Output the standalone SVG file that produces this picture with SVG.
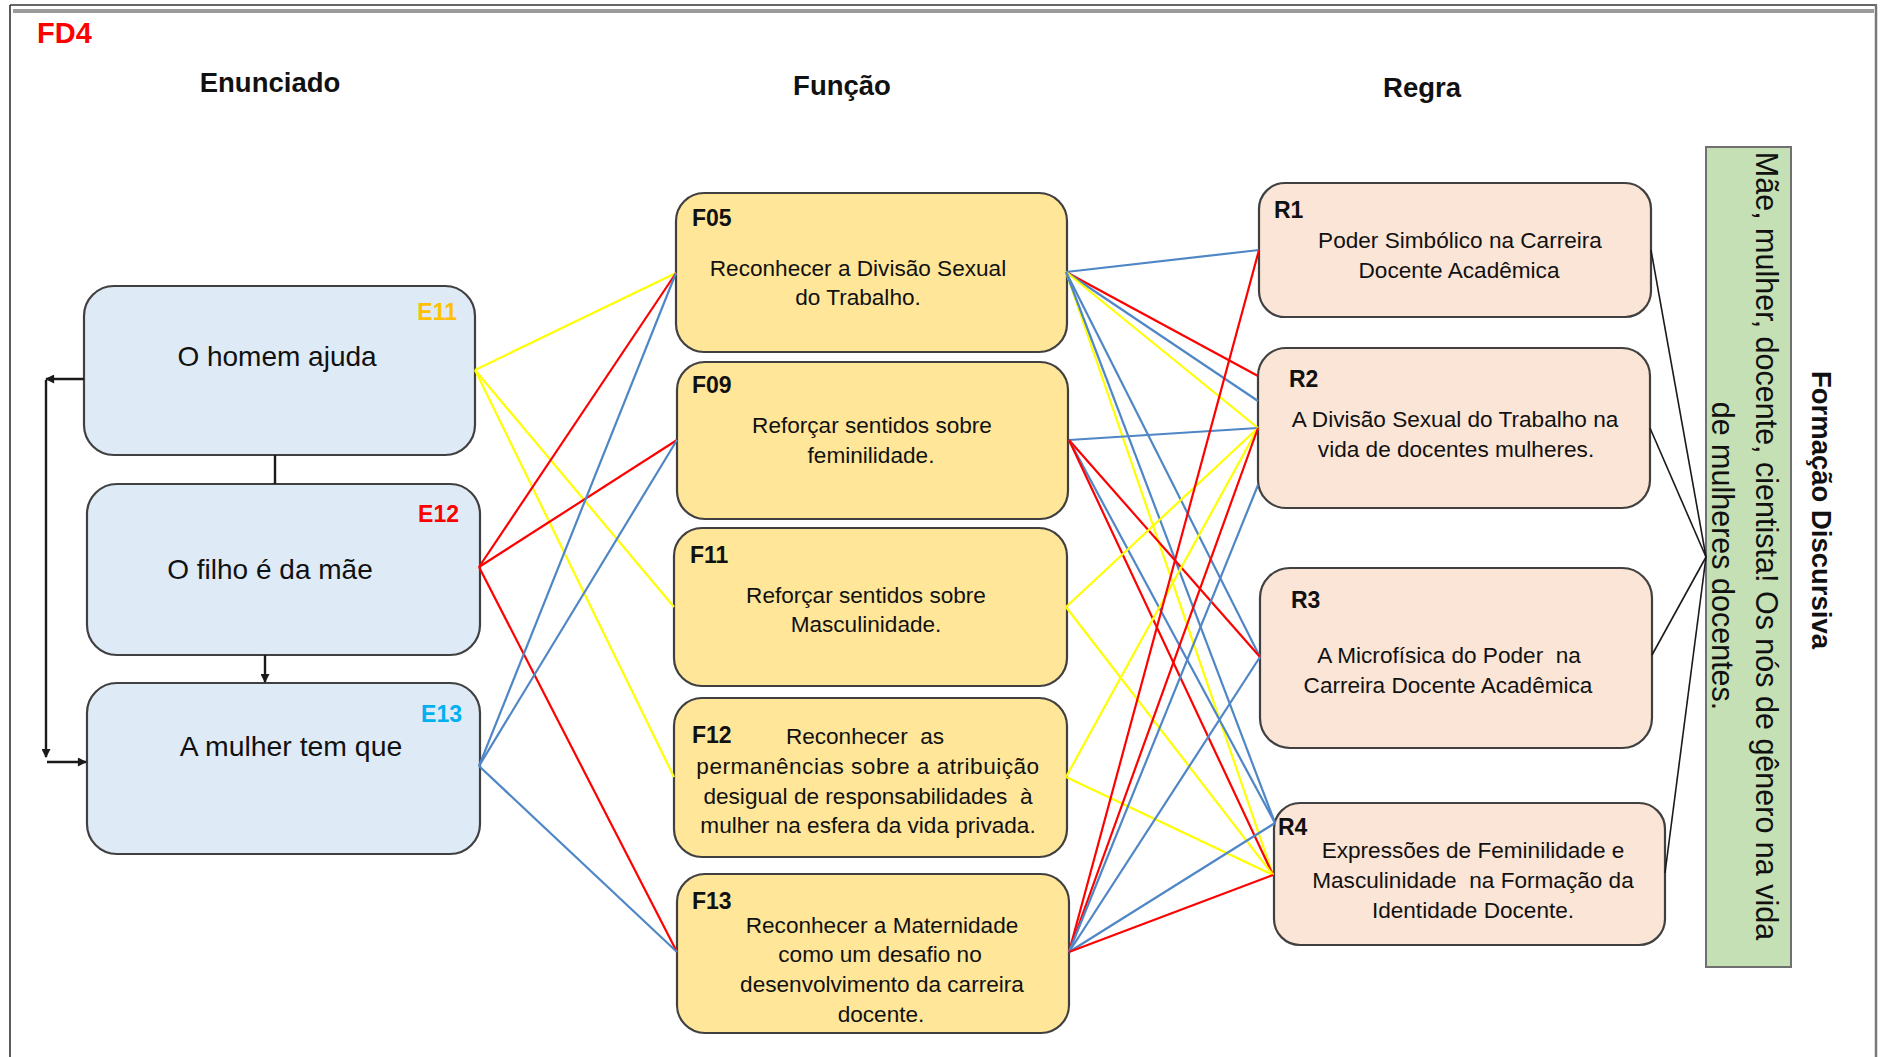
<svg xmlns="http://www.w3.org/2000/svg" width="1885" height="1057" viewBox="0 0 1885 1057">
  <style>
    text { font-family: "Liberation Sans", Arial, sans-serif; fill: #111; }
    .hdr { font-size: 27.5px; font-weight: bold; text-anchor: middle; }
    .etx { font-size: 28px; text-anchor: middle; }
    .elab { font-size: 23px; font-weight: bold; text-anchor: end; }
    .lab { font-size: 23px; font-weight: bold; }
    .tx { font-size: 22.6px; text-anchor: middle; }
    .ebox { fill: #DEEBF7; stroke: #404040; stroke-width: 2.2; }
    .fbox { fill: #FFE699; stroke: #404040; stroke-width: 2.2; }
    .rbox { fill: #FBE5D6; stroke: #404040; stroke-width: 2.2; }
    .gbox { fill: #C5E0B4; stroke: #707070; stroke-width: 2; }
    .y { stroke: #FFFF00; stroke-width: 2.2; fill: none; }
    .r { stroke: #FF0000; stroke-width: 2.2; fill: none; }
    .b { stroke: #4F86C6; stroke-width: 2.2; fill: none; }
    .k { stroke: #1a1a1a; stroke-width: 1.6; fill: none; }
    .ka { stroke: #1a1a1a; stroke-width: 2.4; fill: none; }
  </style>
  <defs>
    <marker id="arr" viewBox="0 0 10 10" refX="9" refY="5" markerUnits="userSpaceOnUse" markerWidth="10" markerHeight="9" orient="auto">
      <path d="M0,0 L10,5 L0,10 z" fill="#1a1a1a"/>
    </marker>
  </defs>

  <!-- frame -->
  <g id="frame">
    <rect x="13" y="9" width="1861" height="4" fill="#9a9a9a"/>
    <line x1="10" y1="5" x2="1877" y2="5" stroke="#333" stroke-width="1.6"/>
    <line x1="10" y1="5" x2="10" y2="1057" stroke="#333" stroke-width="1.6"/>
    <line x1="1876" y1="5" x2="1876" y2="1057" stroke="#777" stroke-width="2.5"/>
  </g>

  <g id="titles">
    <text x="37" y="43" style="font-size:29px;font-weight:bold;fill:#FF0000">FD4</text>
    <text class="hdr" x="270" y="92">Enunciado</text>
    <text class="hdr" x="842" y="95">Função</text>
    <text class="hdr" x="1422" y="97">Regra</text>
  </g>

  <!-- nodes: Enunciado -->
  <g id="E11">
    <rect class="ebox" x="84" y="286" width="391" height="169" rx="30"/>
    <text class="elab" x="457" y="320" style="fill:#FFC000">E11</text>
    <text class="etx" x="277" y="366">O homem ajuda</text>
  </g>
  <g id="E12">
    <rect class="ebox" x="87" y="484" width="393" height="171" rx="30"/>
    <text class="elab" x="459" y="522" style="fill:#FF0000">E12</text>
    <text class="etx" x="270" y="579">O filho é da mãe</text>
  </g>
  <g id="E13">
    <rect class="ebox" x="87" y="683" width="393" height="171" rx="30"/>
    <text class="elab" x="462" y="722" style="fill:#00B0F0">E13</text>
    <text class="etx" x="291" y="756" style="font-size:28.4px">A mulher tem que</text>
  </g>

  <!-- nodes: Função -->
  <g id="F05">
    <rect class="fbox" x="676" y="193" width="391" height="159" rx="28"/>
    <text class="lab" x="692" y="226">F05</text>
    <text class="tx" x="858" y="276">Reconhecer a Divisão Sexual</text>
    <text class="tx" x="858" y="305">do Trabalho.</text>
  </g>
  <g id="F09">
    <rect class="fbox" x="677" y="362" width="391" height="157" rx="28"/>
    <text class="lab" x="692" y="393">F09</text>
    <text class="tx" x="872" y="433">Reforçar sentidos sobre</text>
    <text class="tx" x="871" y="463">feminilidade.</text>
  </g>
  <g id="F11">
    <rect class="fbox" x="674" y="528" width="393" height="158" rx="28"/>
    <text class="lab" x="690" y="563">F11</text>
    <text class="tx" x="866" y="603">Reforçar sentidos sobre</text>
    <text class="tx" x="866" y="632">Masculinidade.</text>
  </g>
  <g id="F12">
    <rect class="fbox" x="674" y="698" width="393" height="159" rx="28"/>
    <text class="lab" x="692" y="743">F12</text>
    <text class="tx" x="865" y="744" xml:space="preserve">Reconhecer  as</text>
    <text class="tx" x="868" y="774" style="letter-spacing:0.5px">permanências sobre a atribuição</text>
    <text class="tx" x="868" y="804" xml:space="preserve">desigual de responsabilidades  à</text>
    <text class="tx" x="868" y="833">mulher na esfera da vida privada.</text>
  </g>
  <g id="F13">
    <rect class="fbox" x="677" y="874" width="392" height="159" rx="28"/>
    <text class="lab" x="692" y="909">F13</text>
    <text class="tx" x="882" y="933">Reconhecer a Maternidade</text>
    <text class="tx" x="880" y="962">como um desafio no</text>
    <text class="tx" x="882" y="992">desenvolvimento da carreira</text>
    <text class="tx" x="881" y="1022">docente.</text>
  </g>

  <!-- nodes: Regra -->
  <g id="R1">
    <rect class="rbox" x="1259" y="183" width="392" height="134" rx="26"/>
    <text class="lab" x="1274" y="218">R1</text>
    <text class="tx" x="1460" y="248">Poder Simbólico na Carreira</text>
    <text class="tx" x="1459" y="278">Docente Acadêmica</text>
  </g>
  <g id="R2">
    <rect class="rbox" x="1258" y="348" width="392" height="160" rx="28"/>
    <text class="lab" x="1289" y="387">R2</text>
    <text class="tx" x="1455" y="427">A Divisão Sexual do Trabalho na</text>
    <text class="tx" x="1456" y="457">vida de docentes mulheres.</text>
  </g>
  <g id="R3">
    <rect class="rbox" x="1260" y="568" width="392" height="180" rx="30"/>
    <text class="lab" x="1291" y="608">R3</text>
    <text class="tx" x="1449" y="663" xml:space="preserve">A Microfísica do Poder  na</text>
    <text class="tx" x="1448" y="693">Carreira Docente Acadêmica</text>
  </g>
  <g id="R4">
    <rect class="rbox" x="1274" y="803" width="391" height="142" rx="26"/>
    <text class="lab" x="1278" y="835">R4</text>
    <text class="tx" x="1473" y="858">Expressões de Feminilidade e</text>
    <text class="tx" x="1473" y="888" xml:space="preserve">Masculinidade  na Formação da</text>
    <text class="tx" x="1473" y="918">Identidade Docente.</text>
  </g>

  <!-- node: Formação Discursiva -->
  <g id="FD">
    <rect class="gbox" x="1706" y="147" width="85" height="820"/>
    <text transform="translate(1756,546) rotate(90)" x="0" y="0" style="font-size:30.5px;text-anchor:middle">Mãe, mulher, docente, cientista! Os nós de gênero na vida</text>
    <text transform="translate(1712,556) rotate(90)" x="0" y="0" style="font-size:30.5px;text-anchor:middle">de mulheres docentes.</text>
    <text transform="translate(1812,510) rotate(90)" x="0" y="0" style="font-size:27.5px;font-weight:bold;text-anchor:middle">Formação Discursiva</text>
  </g>

  <!-- connectors -->
  <g id="connectors">
    <!-- Enunciado internal -->
    <line class="ka" x1="275" y1="455" x2="275" y2="484"/>
    <line class="ka" x1="265" y1="655" x2="265" y2="682" marker-end="url(#arr)"/>
    <line class="ka" x1="84" y1="379" x2="46" y2="379" marker-end="url(#arr)"/>
    <line class="ka" x1="46" y1="380" x2="46" y2="757" marker-end="url(#arr)"/>
    <line class="ka" x1="47" y1="762" x2="86" y2="762" marker-end="url(#arr)"/>

    <!-- Enunciado -> Função -->
    <line class="y" x1="475" y1="370" x2="676" y2="273"/>
    <line class="y" x1="475" y1="370" x2="674" y2="607"/>
    <line class="y" x1="475" y1="370" x2="674" y2="777"/>
    <line class="r" x1="479" y1="567" x2="676" y2="273"/>
    <line class="r" x1="479" y1="567" x2="677" y2="440"/>
    <line class="r" x1="479" y1="567" x2="677" y2="952"/>
    <line class="b" x1="479" y1="766" x2="676" y2="273"/>
    <line class="b" x1="479" y1="766" x2="677" y2="440"/>
    <line class="b" x1="479" y1="766" x2="677" y2="952"/>

    <!-- Função -> Regra -->
    <line class="b" x1="1066" y1="272" x2="1259" y2="250"/>
    <line class="r" x1="1066" y1="272" x2="1258" y2="376"/>
    <line class="b" x1="1066" y1="272" x2="1258" y2="401"/>
    <line class="y" x1="1066" y1="272" x2="1258" y2="428"/>
    <line class="b" x1="1066" y1="272" x2="1260" y2="657"/>
    <line class="y" x1="1066" y1="272" x2="1273" y2="875"/>
    <line class="b" x1="1066" y1="272" x2="1275" y2="823"/>

    <line class="b" x1="1069" y1="440" x2="1258" y2="428"/>
    <line class="r" x1="1069" y1="440" x2="1260" y2="657"/>
    <line class="b" x1="1069" y1="440" x2="1275" y2="823"/>
    <line class="r" x1="1069" y1="440" x2="1273" y2="875"/>

    <line class="y" x1="1066" y1="607" x2="1258" y2="428"/>
    <line class="y" x1="1066" y1="607" x2="1273" y2="875"/>

    <line class="y" x1="1066" y1="777" x2="1258" y2="428"/>
    <line class="y" x1="1066" y1="777" x2="1273" y2="875"/>

    <line class="r" x1="1069" y1="952" x2="1259" y2="250"/>
    <line class="r" x1="1069" y1="952" x2="1258" y2="428"/>
    <line class="b" x1="1069" y1="952" x2="1258" y2="485"/>
    <line class="b" x1="1069" y1="952" x2="1260" y2="657"/>
    <line class="b" x1="1069" y1="952" x2="1275" y2="823"/>
    <line class="r" x1="1069" y1="952" x2="1273" y2="875"/>

    <!-- Regra -> Formação Discursiva -->
    <line class="k" x1="1651" y1="250" x2="1706" y2="557"/>
    <line class="k" x1="1650" y1="428" x2="1706" y2="557"/>
    <line class="k" x1="1652" y1="655" x2="1706" y2="557"/>
    <line class="k" x1="1665" y1="873" x2="1706" y2="557"/>
  </g>
</svg>
